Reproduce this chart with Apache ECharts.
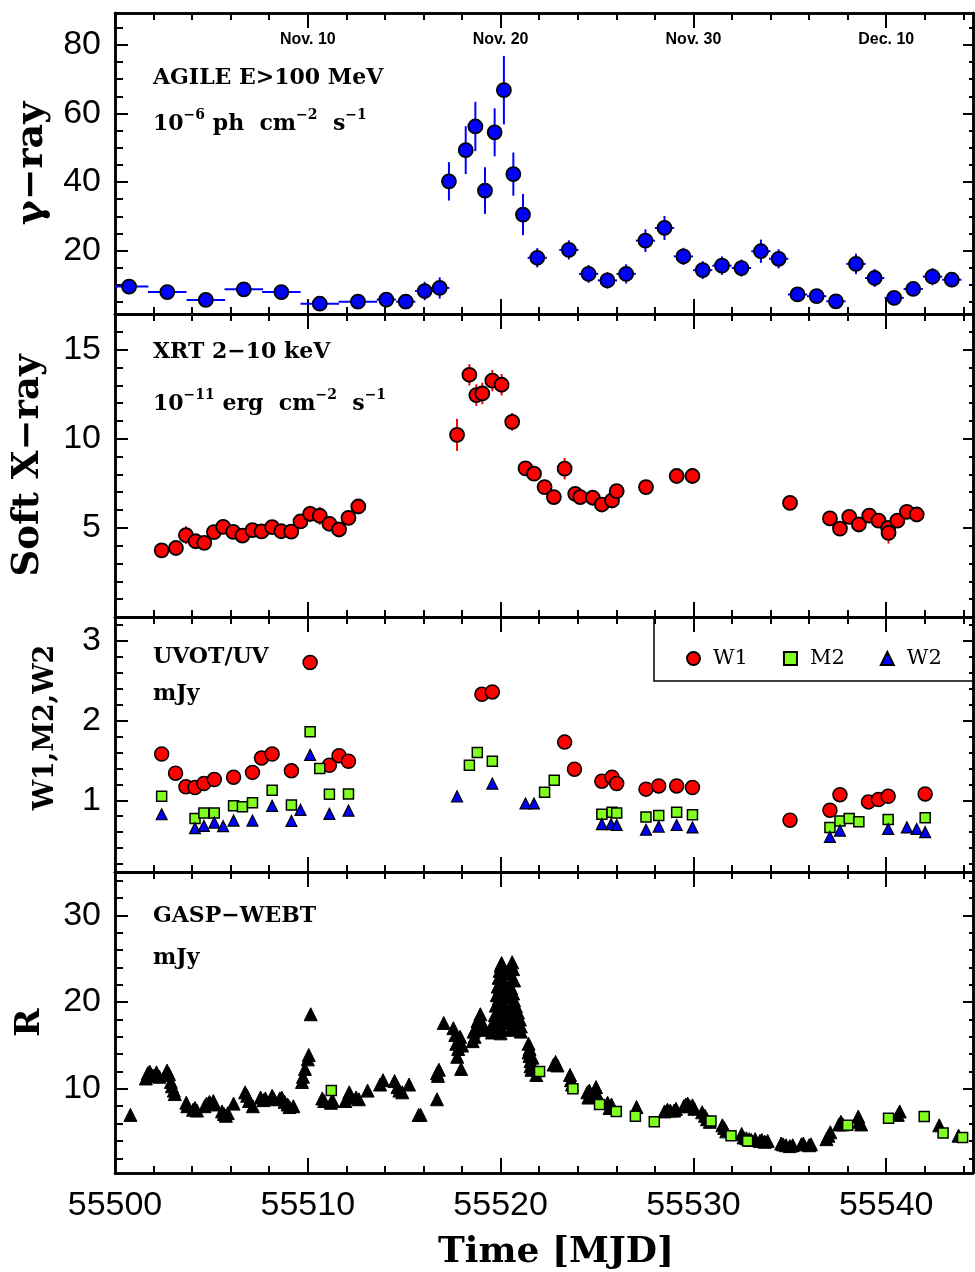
<!DOCTYPE html>
<html>
<head>
<meta charset="utf-8">
<script src="https://cdn.jsdelivr.net/npm/echarts@6/dist/echarts.min.js"></script>
<style>
  html, body { margin: 0; padding: 0; background: #fff; }
  #chart { width: 975px; height: 1272px; }
</style>
</head>
<body>
<div id="chart"></div>
<script>
// ---- x axis (MJD) ----
var xMajor = [55500, 55510, 55520, 55530, 55540];
var xMinor = [55502, 55504, 55506, 55508, 55512, 55514, 55516, 55518, 55522, 55524,
  55526, 55528, 55532, 55534, 55536, 55538, 55542, 55544];
var dateTicks = [55510, 55520, 55530, 55540];
var dateNames = ['Nov. 10', 'Nov. 20', 'Nov. 30', 'Dec. 10'];

// ---- y ticks per panel ----
var gMajor = [20, 40, 60, 80];
var gMinor = [5, 10, 15, 25, 30, 35, 45, 50, 55, 65, 70, 75, 85];
var xrMajor = [5, 10, 15];
var xrMinor = [1, 2, 3, 4, 6, 7, 8, 9, 11, 12, 13, 14, 16];
var uvMajor = [1, 2, 3];
var uvMinor = [0.2, 0.4, 0.6, 0.8, 1.2, 1.4, 1.6, 1.8, 2.2, 2.4, 2.6, 2.8, 3.2];
var rMajor = [10, 20, 30];
var rMinor = [2, 4, 6, 8, 12, 14, 16, 18, 22, 24, 26, 28, 32, 34];

// ---- AGILE gamma-ray (1e-6 ph cm-2 s-1) ----
var gammaT = [55500.73, 55502.71, 55504.71, 55506.68, 55508.63, 55510.62, 55512.60, 55514.07, 55515.08, 55516.06,
  55516.84, 55517.32, 55518.19, 55518.69, 55519.19, 55519.69, 55520.17, 55520.66, 55521.16, 55521.90,
  55523.54, 55524.56, 55525.54, 55526.51, 55527.51, 55528.50, 55529.48, 55530.48, 55531.48, 55532.49,
  55533.50, 55534.42, 55535.40, 55536.39, 55537.39, 55538.43, 55539.40, 55540.41, 55541.40, 55542.40, 55543.40];
var gammaF = [9.5, 7.9, 5.6, 8.7, 7.9, 4.5, 5.1, 5.7, 5.1, 8.2,
  9.1, 40.2, 49.3, 56.2, 37.5, 54.5, 66.8, 42.3, 30.5, 17.9,
  20.2, 13.2, 11.3, 13.2, 22.9, 26.6, 18.3, 14.3, 15.6, 14.9,
  19.8, 17.6, 7.2, 6.7, 5.2, 16.1, 12.0, 6.2, 8.8, 12.4, 11.5];
var gammaErr = [2.2, 1.6, 1.5, 1.8, 1.6, 1.5, 1.5, 2.0, 1.8, 2.7,
  3.1, 5.6, 7.0, 7.2, 6.8, 7.0, 10.0, 6.3, 6.0, 2.8,
  2.8, 2.6, 2.4, 2.8, 3.3, 3.5, 2.5, 2.6, 2.7, 2.5,
  3.4, 2.8, 1.6, 1.6, 1.5, 3.0, 2.6, 1.6, 2.0, 2.5, 2.2];
var gammaDt = [1, 1, 1, 1, 1, 1, 1, 0.5, 0.5, 0.5,
  0.5, 0.25, 0.25, 0.25, 0.25, 0.25, 0.25, 0.25, 0.25, 0.5,
  0.5, 0.5, 0.5, 0.5, 0.5, 0.5, 0.5, 0.5, 0.5, 0.5,
  0.5, 0.5, 0.5, 0.5, 0.5, 0.5, 0.5, 0.5, 0.5, 0.5, 0.5];

// ---- XRT 2-10 keV (1e-11 erg cm-2 s-1) ----
var xrtT = [55502.42, 55503.16, 55503.68, 55504.18, 55504.63, 55505.13, 55505.61, 55506.13, 55506.61, 55507.13,
  55507.60, 55508.15, 55508.62, 55509.14, 55509.62, 55510.12, 55510.62, 55511.12, 55511.62, 55512.11,
  55512.62, 55517.74, 55518.38, 55518.74, 55519.05, 55519.57, 55520.05, 55520.60, 55521.29, 55521.73,
  55522.28, 55522.76, 55523.32, 55523.87, 55524.13, 55524.78, 55525.25, 55525.78, 55526.02, 55527.54,
  55529.13, 55529.95, 55535.01, 55537.08, 55537.60, 55538.08, 55538.58, 55539.12, 55539.60, 55540.10,
  55540.12, 55540.58, 55541.07, 55541.58];
var xrtF = [3.74, 3.87, 4.59, 4.25, 4.16, 4.76, 5.06, 4.78, 4.57, 4.87,
  4.80, 5.04, 4.81, 4.79, 5.36, 5.79, 5.68, 5.23, 4.91, 5.56,
  6.20, 10.22, 13.59, 12.45, 12.54, 13.26, 13.03, 10.95, 8.34, 8.04,
  7.29, 6.73, 8.32, 6.91, 6.73, 6.69, 6.31, 6.54, 7.06, 7.29,
  7.91, 7.91, 6.40, 5.53, 4.96, 5.62, 5.19, 5.69, 5.41, 5.00,
  4.72, 5.41, 5.90, 5.75];
var xrtErr = [0.15, 0.4, 0.5, 0.35, 0.3, 0.35, 0.35, 0.35, 0.3, 0.4,
  0.35, 0.35, 0.35, 0.35, 0.4, 0.45, 0.5, 0.4, 0.3, 0.35,
  0.35, 0.9, 0.6, 0.6, 0.6, 0.6, 0.6, 0.5, 0.3, 0.35,
  0.3, 0.3, 0.6, 0.35, 0.35, 0.3, 0.4, 0.45, 0.3, 0.25,
  0.3, 0.2, 0.2, 0.2, 0.2, 0.3, 0.2, 0.3, 0.2, 0.3,
  0.6, 0.2, 0.3, 0.3];

// ---- UVOT (mJy) ----
var w1 = [[55502.42, 1.58], [55503.14, 1.34], [55503.68, 1.17], [55504.15, 1.16], [55504.61, 1.21],
  [55505.15, 1.26], [55506.15, 1.29], [55507.13, 1.35], [55507.60, 1.53], [55508.15, 1.58],
  [55509.15, 1.37], [55510.12, 2.73], [55511.12, 1.44], [55511.62, 1.56], [55512.11, 1.49],
  [55519.03, 2.33], [55519.57, 2.36], [55523.32, 1.73], [55523.83, 1.39], [55525.25, 1.24],
  [55525.78, 1.29], [55526.02, 1.21], [55527.54, 1.14], [55528.20, 1.18], [55529.13, 1.18],
  [55529.95, 1.16], [55535.01, 0.75], [55537.08, 0.875], [55537.60, 1.07], [55539.08, 0.98],
  [55539.60, 1.01], [55540.10, 1.05], [55542.02, 1.08]];
var m2 = [[55502.42, 1.05], [55504.15, 0.77], [55504.61, 0.84], [55505.15, 0.84], [55506.15, 0.93],
  [55506.61, 0.92], [55507.13, 0.97], [55508.15, 1.125], [55509.15, 0.94], [55510.12, 1.86],
  [55510.62, 1.40], [55511.12, 1.075], [55512.11, 1.08], [55518.38, 1.44], [55518.79, 1.60],
  [55519.57, 1.49], [55522.28, 1.10], [55522.78, 1.25], [55525.25, 0.825], [55525.78, 0.85],
  [55526.02, 0.84], [55527.54, 0.79], [55528.20, 0.81], [55529.13, 0.85], [55529.95, 0.82],
  [55537.08, 0.66], [55537.60, 0.74], [55538.08, 0.77], [55538.58, 0.73], [55540.10, 0.76],
  [55542.02, 0.78]];
var w2 = [[55502.42, 0.825], [55504.15, 0.65], [55504.61, 0.68], [55505.15, 0.72], [55505.61, 0.675],
  [55506.15, 0.745], [55507.13, 0.745], [55508.15, 0.93], [55509.15, 0.74], [55509.62, 0.88],
  [55510.12, 1.57], [55511.12, 0.83], [55512.11, 0.87], [55517.74, 1.05], [55519.57, 1.21],
  [55521.29, 0.96], [55521.73, 0.96], [55525.25, 0.70], [55525.73, 0.70], [55526.02, 0.69],
  [55527.54, 0.63], [55528.20, 0.67], [55529.13, 0.69], [55529.95, 0.66], [55537.08, 0.54],
  [55537.60, 0.62], [55540.10, 0.64], [55541.07, 0.66], [55541.58, 0.64], [55542.02, 0.60]];

// ---- GASP-WEBT R band (mJy) ----
var rBand = [[55500.80, 7.0], [55501.60, 11.2], [55501.70, 11.8], [55501.80, 12.0], [55501.90, 11.6],
  [55502.00, 11.5], [55502.15, 11.9], [55502.30, 11.4], [55502.60, 11.6], [55502.70, 12.1],
  [55502.80, 11.7], [55502.90, 10.8], [55502.95, 10.3], [55503.05, 9.8], [55503.10, 9.4],
  [55503.70, 8.4], [55503.75, 8.0], [55504.05, 7.6], [55504.15, 7.8], [55504.25, 7.5],
  [55504.65, 8.0], [55504.75, 8.3], [55504.90, 8.5], [55505.10, 8.6], [55505.15, 8.2],
  [55505.55, 7.4], [55505.65, 7.1], [55505.75, 6.9], [55505.85, 7.2], [55506.15, 8.3],
  [55506.75, 9.6], [55506.85, 9.2], [55506.95, 8.6], [55507.15, 8.0], [55507.55, 9.0],
  [55507.70, 8.7], [55507.80, 8.9], [55508.15, 9.2], [55508.25, 8.8], [55508.55, 8.9],
  [55508.65, 9.0], [55508.80, 8.5], [55508.95, 8.2], [55509.05, 7.9], [55509.25, 8.0],
  [55509.70, 10.8], [55509.75, 11.4], [55509.85, 12.3], [55510.00, 13.4], [55510.05, 13.9],
  [55510.15, 18.6], [55510.75, 8.9], [55510.85, 8.6], [55511.20, 8.4], [55511.30, 8.6],
  [55511.95, 8.6], [55512.15, 9.6], [55512.25, 9.0], [55512.50, 9.0], [55512.65, 8.8],
  [55513.10, 9.8], [55513.75, 10.5], [55513.90, 11.0], [55514.50, 10.9], [55514.65, 10.2],
  [55514.75, 9.8], [55514.90, 9.6], [55515.25, 10.5], [55515.75, 7.0], [55515.85, 7.0],
  [55516.70, 8.8], [55516.70, 11.8], [55516.75, 11.5], [55516.80, 12.2], [55517.05, 17.6],
  [55517.55, 17.0], [55517.65, 16.2], [55517.70, 15.2], [55517.75, 13.7], [55517.80, 14.6],
  [55517.90, 16.0], [55517.95, 12.3], [55518.00, 15.0], [55517.85, 15.6], [55518.55, 15.5],
  [55518.65, 16.0], [55518.60, 16.6], [55518.75, 17.0], [55518.80, 17.8], [55518.90, 18.2],
  [55518.95, 18.6], [55519.00, 17.5], [55519.05, 17.2], [55519.10, 16.8], [55519.20, 16.9],
  [55519.55, 16.5], [55519.60, 17.2], [55519.65, 17.8], [55519.70, 18.5], [55519.75, 19.6],
  [55519.80, 20.8], [55519.85, 21.8], [55519.90, 22.8], [55519.95, 23.6], [55520.00, 24.2],
  [55520.05, 24.5], [55520.10, 23.8], [55520.05, 22.6], [55519.95, 21.5], [55520.00, 20.2],
  [55519.90, 19.0], [55519.95, 18.0], [55520.10, 21.0], [55520.15, 19.5], [55520.05, 17.0],
  [55519.85, 17.6], [55520.10, 18.4], [55520.00, 16.4], [55520.15, 22.4], [55519.90, 20.4],
  [55520.35, 18.5], [55520.40, 20.5], [55520.45, 22.0], [55520.50, 23.3], [55520.55, 24.2],
  [55520.60, 24.6], [55520.65, 23.8], [55520.70, 22.5], [55520.65, 21.0], [55520.60, 19.8],
  [55520.70, 18.6], [55520.75, 17.5], [55520.60, 17.0], [55520.40, 17.6], [55520.80, 19.5],
  [55520.50, 18.8], [55520.55, 21.6], [55520.45, 19.2], [55520.70, 20.2], [55520.55, 16.8],
  [55520.90, 18.8], [55521.00, 18.0], [55521.05, 17.2], [55521.05, 16.6], [55521.45, 15.2],
  [55521.50, 14.6], [55521.50, 13.8], [55521.55, 13.2], [55521.55, 12.6], [55521.60, 12.2],
  [55521.65, 13.6], [55521.45, 14.2], [55521.85, 11.6], [55522.75, 12.8], [55522.85, 13.1],
  [55522.95, 12.7], [55523.60, 11.6], [55523.65, 11.0], [55523.70, 10.5], [55524.50, 9.6],
  [55524.55, 9.0], [55524.60, 9.8], [55524.70, 9.3], [55524.80, 9.1], [55524.95, 10.2],
  [55525.00, 9.4], [55525.55, 8.4], [55525.65, 7.8], [55525.75, 8.2], [55527.05, 7.9],
  [55528.50, 7.4], [55528.65, 7.6], [55528.80, 7.5], [55529.00, 7.5], [55529.10, 7.7],
  [55529.50, 8.0], [55529.60, 8.2], [55529.70, 8.3], [55529.80, 8.0], [55529.95, 8.1],
  [55530.05, 7.7], [55530.45, 7.3], [55530.60, 6.9], [55530.70, 6.5], [55530.85, 6.2],
  [55531.50, 5.8], [55531.60, 5.5], [55531.70, 5.1], [55532.50, 4.8], [55532.60, 4.4],
  [55532.75, 4.3], [55532.90, 4.2], [55533.00, 4.1], [55533.20, 4.2], [55533.45, 4.0],
  [55533.55, 4.1], [55533.70, 3.9], [55533.85, 4.0], [55534.55, 3.7], [55534.65, 3.6],
  [55534.80, 3.5], [55535.00, 3.4], [55535.15, 3.5], [55535.60, 3.6], [55535.70, 3.7],
  [55536.00, 3.5], [55536.10, 3.6], [55536.90, 4.2], [55537.00, 4.6], [55537.10, 5.0],
  [55537.55, 5.9], [55537.65, 6.2], [55537.75, 5.9], [55538.55, 6.8], [55538.60, 6.2],
  [55538.70, 5.9], [55540.60, 7.0], [55540.70, 7.4], [55542.75, 5.8], [55543.75, 4.6]];
var rSquares = [[55511.22, 9.8], [55522.02, 12.0], [55523.75, 10.0], [55525.13, 8.2], [55526.00, 7.4],
  [55526.99, 6.85], [55527.97, 6.2], [55530.91, 6.3], [55531.95, 4.6], [55532.81, 4.0],
  [55538.00, 5.8], [55540.12, 6.6], [55541.97, 6.8], [55542.95, 4.9], [55543.96, 4.4]];

var X_MIN = 55500, X_MAX = 55544.5;
var SERIF = 'DejaVu Serif';
var SANS = 'Liberation Sans';

var panels = [
  { top: 13, height: 301, min: 1.5, max: 89.3, major: gMajor, minor: gMinor, name: 'γ−ray', nameSize: 38, nameGap: 64, namePad: 0 },
  { top: 314, height: 303, min: 0, max: 17, major: xrMajor, minor: xrMinor, name: 'Soft X−ray', nameSize: 37, nameGap: 68, namePad: 0 },
  { top: 617, height: 255, min: 0.1, max: 3.3, major: uvMajor, minor: uvMinor, name: 'W1,M2,W2', nameSize: 27, nameGap: 56, namePad: 34 },
  { top: 872, height: 301, min: 0.3, max: 35, major: rMajor, minor: rMinor, name: 'R', nameSize: 34, nameGap: 68, namePad: 0 }
];

var chart = echarts.init(document.getElementById('chart'));

var lineStyle = { color: '#000', width: 2.5 };
var tickStyle = { color: '#000', width: 2 };

var grids = [], xAxes = [], yAxes = [];

function makeX(g, pos, ticks, len, label, name) {
  var ax = {
    type: 'value', gridIndex: g, position: pos, min: X_MIN, max: X_MAX,
    axisLine: { show: true, onZero: false, lineStyle: lineStyle },
    axisTick: { show: true, inside: true, length: len, customValues: ticks, lineStyle: tickStyle },
    axisLabel: label || { show: false },
    splitLine: { show: false }
  };
  if (name) {
    ax.name = name.text;
    ax.nameLocation = 'middle';
    ax.nameGap = name.gap;
    ax.nameTextStyle = name.style;
  }
  return ax;
}

function makeY(g, p, pos, ticks, len, label, withName) {
  var ax = {
    type: 'value', gridIndex: g, position: pos, min: p.min, max: p.max,
    axisLine: { show: true, onZero: false, lineStyle: lineStyle },
    axisTick: { show: true, inside: true, length: len, customValues: ticks, lineStyle: tickStyle },
    axisLabel: label || { show: false },
    splitLine: { show: false }
  };
  if (withName) {
    ax.name = p.name;
    ax.nameLocation = 'middle';
    ax.nameGap = p.nameGap;
    ax.nameRotate = 90;
    ax.nameTextStyle = { fontFamily: SERIF, fontWeight: 'bold', fontSize: p.nameSize, color: '#000',
      padding: [0, 0, 0, p.namePad] };
  }
  return ax;
}

panels.forEach(function (p, g) {
  grids.push({ left: 115, right: 2, top: p.top, height: p.height, containLabel: false, outerBoundsMode: 'none' });

  var bottomLabel = null, bottomName = null, topLabel = null;
  if (g === 3) {
    bottomLabel = { show: true, customValues: xMajor, margin: 16, fontFamily: SANS, fontSize: 34, color: '#000',
      formatter: function (v) { return String(Math.round(v)); } };
    bottomName = { text: 'Time [MJD]', gap: 62,
      style: { fontFamily: SERIF, fontWeight: 'bold', fontSize: 36, color: '#000', padding: [0, 0, 0, 24] } };
  }
  if (g === 0) {
    topLabel = { show: true, inside: true, customValues: dateTicks, margin: 19,
      fontFamily: SANS, fontWeight: 'bold', fontSize: 16, color: '#000',
      formatter: function (v) { return dateNames[dateTicks.indexOf(Math.round(v))] || ''; } };
  }
  xAxes.push(makeX(g, 'bottom', xMajor, 15, bottomLabel, bottomName));
  xAxes.push(makeX(g, 'bottom', xMinor, 7));
  xAxes.push(makeX(g, 'top', xMajor, 15, topLabel));
  xAxes.push(makeX(g, 'top', xMinor, 7));

  yAxes.push(makeY(g, p, 'left', p.major, 13,
    { show: true, customValues: p.major, margin: 14, fontFamily: SANS, fontSize: 34, color: '#000' }, true));
  yAxes.push(makeY(g, p, 'left', p.minor, 8));
  yAxes.push(makeY(g, p, 'right', p.major, 10));
  yAxes.push(makeY(g, p, 'right', p.minor, 4));
});

function errorBars(g, color, data) {
  return {
    type: 'custom', xAxisIndex: g * 4, yAxisIndex: g * 4, data: data, clip: true, z: 2,
    encode: { x: 0, y: 1 }, silent: true,
    renderItem: function (params, api) {
      var t = api.value(0), v = api.value(1), e = api.value(2), dt = api.value(3);
      var lo = api.coord([t, v - e]), hi = api.coord([t, v + e]);
      var l = api.coord([t - dt, v]), r = api.coord([t + dt, v]);
      var st = { stroke: color, lineWidth: 2 };
      return { type: 'group', children: [
        { type: 'line', shape: { x1: lo[0], y1: lo[1], x2: hi[0], y2: hi[1] }, style: st },
        { type: 'line', shape: { x1: l[0], y1: l[1], x2: r[0], y2: r[1] }, style: st }
      ] };
    }
  };
}

function scatter(g, name, data, symbol, size, color, border) {
  return {
    type: 'scatter', name: name, xAxisIndex: g * 4, yAxisIndex: g * 4, data: data,
    symbol: symbol, symbolSize: size, symbolKeepAspect: true, clip: true, z: 3, silent: true,
    itemStyle: { color: color, borderColor: '#000', borderWidth: border, opacity: 1 }
  };
}

var gammaData = gammaT.map(function (t, i) { return [t, gammaF[i], gammaErr[i], gammaDt[i]]; });
var xrtData = xrtT.map(function (t, i) { return [t, xrtF[i], xrtErr[i], 0]; });

var series = [
  errorBars(0, '#0000ff', gammaData),
  scatter(0, 'AGILE', gammaData.map(function (d) { return [d[0], d[1]]; }), 'circle', 14, '#0000ff', 1.8),
  errorBars(1, '#ff0000', xrtData),
  scatter(1, 'XRT', xrtData.map(function (d) { return [d[0], d[1]]; }), 'circle', 14, '#ff0000', 1.8),
  scatter(2, 'W1', w1, 'circle', 14, '#ff0000', 1.5),
  scatter(2, 'M2', m2, 'rect', 10, '#80ff20', 1.5),
  scatter(2, 'W2', w2, 'triangle', 11, '#0000ff', 1.2),
  scatter(3, 'R', rBand, 'triangle', 13, '#000000', 1),
  scatter(3, 'Rsq', rSquares, 'rect', 10, '#80ff20', 1.5)
];

var richSup = {
  m: { fontFamily: SERIF, fontWeight: 'bold', fontSize: 22, lineHeight: 27, verticalAlign: 'bottom', fill: '#000' },
  s: { fontFamily: SERIF, fontWeight: 'bold', fontSize: 14, lineHeight: 15, verticalAlign: 'top', fill: '#000' }
};

function tag(x, y, text, rich) {
  var st = { text: text, fill: '#000', verticalAlign: 'middle', align: 'left',
    fontFamily: SERIF, fontWeight: 'bold', fontSize: 22 };
  if (rich) st.rich = richSup;
  return { type: 'text', x: x, y: y, silent: true, z: 10, style: st };
}

var option = {
  animation: false,
  backgroundColor: '#fff',
  grid: grids,
  xAxis: xAxes,
  yAxis: yAxes,
  legend: {
    left: 686, top: 648, width: 300, orient: 'horizontal',
    data: ['W1', 'M2', 'W2'],
    itemWidth: 13, itemHeight: 13, itemGap: 35,
    padding: 0,
    selectedMode: false,
    textStyle: { fontFamily: SERIF, fontSize: 21, color: '#000', padding: [0, 0, 0, 8] }
  },
  graphic: [
    { type: 'rect', silent: true, z: 5, shape: { x: 654, y: 617, width: 319, height: 64 },
      style: { fill: 'none', stroke: '#000', lineWidth: 1.5 } },
    tag(153, 78, 'AGILE E>100 MeV'),
    tag(153, 122, '{m|10}{s|−6}{m| ph  cm}{s|−2}{m|  s}{s|−1}', true),
    tag(153, 352, 'XRT 2−10 keV'),
    tag(153, 402, '{m|10}{s|−11}{m| erg  cm}{s|−2}{m|  s}{s|−1}', true),
    tag(153, 657, 'UVOT/UV'),
    tag(153, 694, 'mJy'),
    tag(153, 916, 'GASP−WEBT'),
    tag(153, 958, 'mJy')
  ],
  series: series
};

chart.setOption(option);
</script>
</body>
</html>
